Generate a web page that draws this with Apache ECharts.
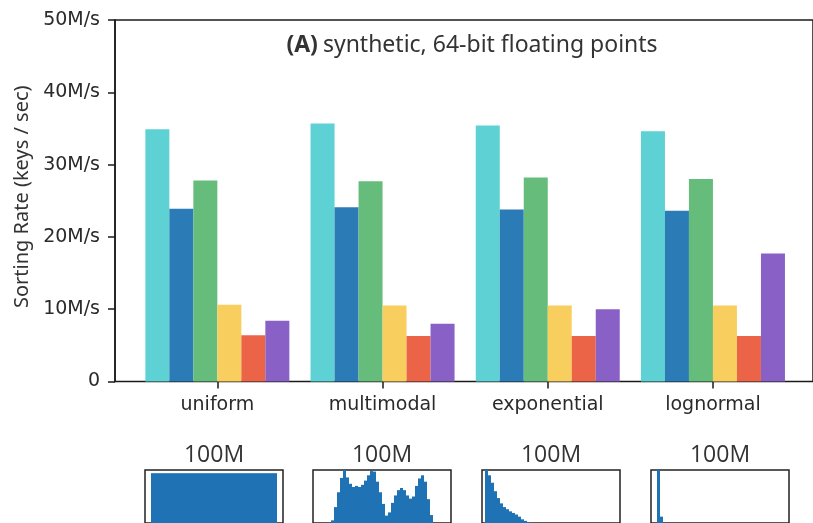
<!DOCTYPE html>
<html>
<head>
<meta charset="utf-8">
<script src="https://cdn.jsdelivr.net/npm/echarts@6/dist/echarts.min.js"></script>
<style>
  html, body { margin: 0; padding: 0; background: #fff; }
  #chart { width: 813px; height: 523px; }
</style>
</head>
<body>
<div id="chart"></div>
<script>
// Input distributions and sorting throughput (million keys / second)
const categories = ['uniform', 'multimodal', 'exponential', 'lognormal'];
const yTickValues = [0, 10, 20, 30, 40, 50];

const rateSorter1 = [34.9, 35.7, 35.4, 34.6];
const rateSorter2 = [23.9, 24.1, 23.8, 23.6];
const rateSorter3 = [27.8, 27.7, 28.2, 28.0];
const rateSorter4 = [10.6, 10.5, 10.5, 10.5];
const rateSorter5 = [6.4, 6.3, 6.3, 6.3];
const rateSorter6 = [8.4, 8.0, 10.0, 17.7];

const sorterNames = ['Sorter 1', 'Sorter 2', 'Sorter 3', 'Sorter 4', 'Sorter 5', 'Sorter 6'];
const sorterColors = ['#5dd1d4', '#2b7bb7', '#66bd7b', '#f8cf5f', '#ec6447', '#8860c6'];

// Key-count label and normalised histogram (46 bins) of each input distribution
const histLabels = ['100M', '100M', '100M', '100M'];
const histUniform = [0, 0, 0.94, 0.94, 0.94, 0.94, 0.94, 0.94, 0.94, 0.94, 0.94, 0.94, 0.94, 0.94, 0.94, 0.94,
  0.94, 0.94, 0.94, 0.94, 0.94, 0.94, 0.94, 0.94, 0.94, 0.94, 0.94, 0.94, 0.94, 0.94, 0.94,
  0.94, 0.94, 0.94, 0.94, 0.94, 0.94, 0.94, 0.94, 0.94, 0.94, 0.94, 0.94, 0.94, 0, 0];
const histMultimodal = [0, 0, 0, 0, 0, 0, 0.05, 0.30, 0.58, 0.85, 1.0, 0.86, 0.74, 0.68, 0.70, 0.68,
  0.72, 0.80, 0.90, 0.98, 0.97, 0.78, 0.58, 0.36, 0.14, 0.20, 0.38, 0.52, 0.62, 0.66, 0.62,
  0.52, 0.46, 0.50, 0.70, 0.84, 0.90, 0.78, 0.45, 0.15, 0, 0, 0, 0, 0, 0];
const histExponential = [0, 1.0, 0.90, 0.76, 0.60, 0.47, 0.37, 0.30, 0.26, 0.22, 0.19, 0.16, 0.12, 0.07, 0.04, 0.02,
  0, 0, 0, 0, 0, 0, 0, 0, 0, 0, 0, 0, 0, 0, 0,
  0, 0, 0, 0, 0, 0, 0, 0, 0, 0, 0, 0, 0, 0, 0];
const histLognormal = [0, 0, 1.0, 0.12, 0, 0, 0, 0, 0, 0, 0, 0, 0, 0, 0, 0,
  0, 0, 0, 0, 0, 0, 0, 0, 0, 0, 0, 0, 0, 0, 0,
  0, 0, 0, 0, 0, 0, 0, 0, 0, 0, 0, 0, 0, 0, 0];

const rates = [rateSorter1, rateSorter2, rateSorter3, rateSorter4, rateSorter5, rateSorter6];
const hists = [histUniform, histMultimodal, histExponential, histLognormal];
const histLefts = [145, 313, 482, 651];

const tickFont = 'DejaVu Sans';
const plotTop = 20, plotBottom = 141.5;

const grids = [
  // frame grid: spines and y axis
  { left: 115, right: -3, top: plotTop, bottom: plotBottom, show: true,
    borderColor: '#1a1a1a', borderWidth: 1.5, backgroundColor: 'transparent' },
  // bar grid
  { left: 134.75, right: 17.45, top: plotTop, bottom: plotBottom }
];
histLefts.forEach(l => grids.push({ left: l, width: 138, top: 470, height: 56, show: true,
  borderColor: '#222', borderWidth: 1.5, backgroundColor: 'transparent' }));

const xAxes = [
  { gridIndex: 0, type: 'value', min: 0, max: 1, show: false },
  { gridIndex: 1, type: 'category', data: categories,
    axisLine: { show: false },
    axisTick: { show: true, alignWithLabel: true, length: 7, lineStyle: { color: '#1a1a1a', width: 1.5 } },
    axisLabel: { fontFamily: tickFont, fontSize: 19, color: '#2a2a2a', margin: 14 } }
];
const yAxes = [
  { gridIndex: 0, type: 'value', min: 0, max: 50, interval: 10,
    axisLine: { show: true, lineStyle: { color: '#1a1a1a', width: 1.5 } },
    axisTick: { show: true, length: 7, lineStyle: { color: '#1a1a1a', width: 1.5 } },
    splitLine: { show: false },
    axisLabel: { fontFamily: tickFont, fontSize: 19, color: '#2a2a2a', margin: 15,
      formatter: v => (yTickValues.indexOf(v) < 0 ? '' : (v === 0 ? '0' : v + 'M/s')) },
    name: 'Sorting Rate (keys / sec)', nameLocation: 'middle', nameGap: 82,
    nameTextStyle: { fontFamily: 'Noto Sans', fontSize: 20, color: '#333', padding: [0, 0, 0, 8] } },
  { gridIndex: 1, type: 'value', min: 0, max: 50, show: false }
];

hists.forEach((h, i) => {
  xAxes.push({ gridIndex: i + 2, type: 'category', data: h.map((_, k) => k), position: 'top',
    axisLine: { show: false }, axisTick: { show: false }, axisLabel: { show: false },
    name: histLabels[i], nameLocation: 'middle', nameGap: 3,
    nameTextStyle: { fontFamily: 'Open Sans', fontSize: 23, color: '#333' } });
  yAxes.push({ gridIndex: i + 2, type: 'value', min: 0, max: 1, show: false });
});

const series = rates.map((r, i) => ({
  name: sorterNames[i], type: 'bar', xAxisIndex: 1, yAxisIndex: 1,
  data: r, barWidth: 24, barGap: '0%',
  itemStyle: { color: sorterColors[i] }, silent: true
}));
hists.forEach((h, i) => series.push({
  type: 'bar', xAxisIndex: i + 2, yAxisIndex: i + 2, data: h,
  barCategoryGap: '0%', itemStyle: { color: '#1f72b4' }, silent: true
}));

const chart = echarts.init(document.getElementById('chart'), null, { renderer: 'canvas' });
chart.setOption({
  animation: false,
  backgroundColor: '#fff',
  title: {
    text: '{b|(A)} {n|synthetic, 64-bit floating points}',
    left: 467, top: 29, textAlign: 'center',
    textStyle: {
      rich: {
        b: { fontFamily: 'Noto Sans', fontSize: 23, fontWeight: 'bold', color: '#333' },
        n: { fontFamily: 'Noto Sans', fontSize: 23, fontWeight: 'normal', color: '#333' }
      }
    }
  },
  grid: grids,
  xAxis: xAxes,
  yAxis: yAxes,
  series: series
});
</script>
</body>
</html>
